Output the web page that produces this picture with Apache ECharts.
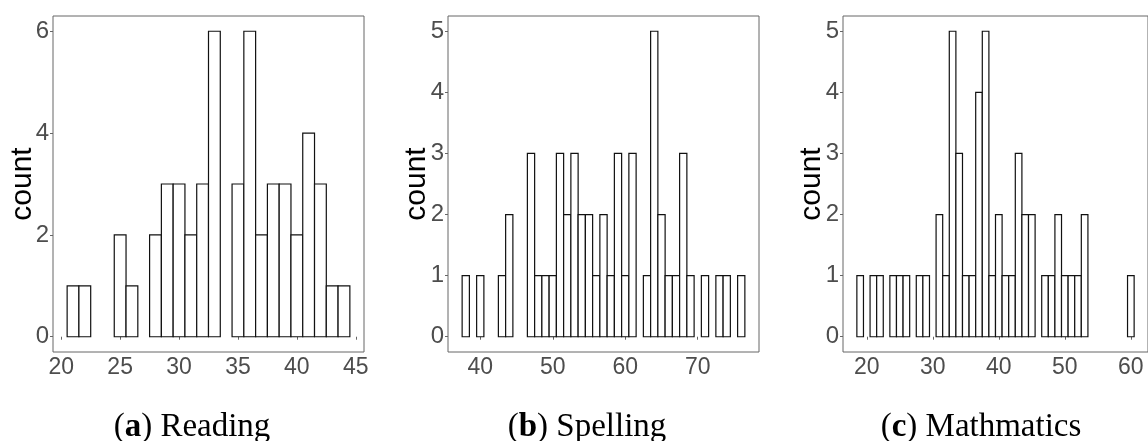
<!DOCTYPE html>
<html>
<head>
<meta charset="utf-8">
<title>Score histograms</title>
<script src="https://cdn.jsdelivr.net/npm/echarts@6/dist/echarts.min.js"></script>
<style>
  html, body { margin: 0; padding: 0; background: #fff; }
  #chart { width: 1148px; height: 441px; }
</style>
</head>
<body>
<div id="chart"></div>
<script>
// Histogram bins (bin centre, width 1) and counts for each test
const readingScore = [21, 22, 25, 26, 28, 29, 30, 31, 32, 33, 35, 36, 37, 38, 39, 40, 41, 42, 43, 44];
const readingCount = [1, 1, 2, 1, 2, 3, 3, 2, 3, 6, 3, 6, 2, 3, 3, 2, 4, 3, 1, 1];

const spellingScore = [38, 40, 43, 44, 47, 48, 49, 50, 51, 52, 53, 54, 55, 56, 57, 58, 59, 60, 61,
                       63, 64, 65, 66, 67, 68, 69, 71, 73, 74, 76];
const spellingCount = [1, 1, 1, 2, 3, 1, 1, 1, 3, 2, 3, 2, 2, 1, 2, 1, 3, 1, 3,
                       1, 5, 2, 1, 1, 3, 1, 1, 1, 1, 1];

const mathScore = [19, 21, 22, 24, 25, 26, 28, 29, 31, 32, 33, 34, 35, 36, 37, 38, 39, 40, 41, 42,
                   43, 44, 45, 47, 48, 49, 50, 51, 52, 53, 60];
const mathCount = [1, 1, 1, 1, 1, 1, 1, 1, 2, 1, 5, 3, 1, 1, 4, 5, 1, 2, 1, 1,
                   3, 2, 2, 1, 1, 2, 1, 1, 1, 2, 1];

// Tick labels
const readingXTicks = [20, 25, 30, 35, 40, 45];
const readingYTicks = [0, 2, 4, 6];
const spellingXTicks = [40, 50, 60, 70];
const spellingYTicks = [0, 1, 2, 3, 4, 5];
const mathXTicks = [20, 30, 40, 50, 60];
const mathYTicks = [0, 1, 2, 3, 4, 5];

// Panel captions and axis title
const captionLetters = ['a', 'b', 'c'];
const captionNames = ['Reading', 'Spelling', 'Mathmatics'];
const yTitle = 'count';

const BIN = 1;
const SANS = '"Liberation Sans", Arial, sans-serif';
const SERIF = '"Liberation Serif", "Times New Roman", serif';
const TICK_GREY = '#4d4d4d';

const chart = echarts.init(document.getElementById('chart'), null, { renderer: 'canvas' });

function zip(xs, ys) { return xs.map((x, i) => [x, ys[i]]); }

function histBar(params, api) {
  const v = api.value(0), c = api.value(1);
  const p0 = api.coord([v - BIN / 2, c]);
  const p1 = api.coord([v + BIN / 2, 0]);
  return {
    type: 'rect',
    shape: { x: p0[0], y: p0[1], width: p1[0] - p0[0], height: p1[1] - p0[1] },
    style: { fill: '#ffffff', stroke: '#111111', lineWidth: 1.2 }
  };
}

const panels = [
  { left: 53,  width: 311, xMin: 19.3,  xMax: 45.7,  yMin: -0.3,  yMax: 6.3,  xt: readingXTicks,  yt: readingYTicks,  data: zip(readingScore, readingCount) },
  { left: 448, width: 311, xMin: 35.55, xMax: 78.45, yMin: -0.25, yMax: 5.25, xt: spellingXTicks, yt: spellingYTicks, data: zip(spellingScore, spellingCount) },
  { left: 843, width: 312, xMin: 16.4,  xMax: 62.6,  yMin: -0.25, yMax: 5.25, xt: mathXTicks,     yt: mathYTicks,     data: zip(mathScore, mathCount) }
];
const captionCentres = [187, 582, 976];
const yTitleCentres = [23, 417, 812];

const option = {
  backgroundColor: '#ffffff',
  animation: false,
  grid: panels.map(p => ({
    left: p.left, top: 16, width: p.width, height: 336,
    show: true, borderColor: '#666666', borderWidth: 1, backgroundColor: 'transparent',
    containLabel: false
  })),
  xAxis: panels.map((p, i) => ({
    type: 'value', gridIndex: i, min: p.xMin, max: p.xMax,
    axisLine: { show: false },
    splitLine: { show: false },
    axisTick: { show: true, length: 3, lineStyle: { color: '#666666' }, customValues: p.xt },
    axisLabel: { show: true, customValues: p.xt, margin: 4, color: TICK_GREY, fontSize: 23, fontFamily: SANS }
  })),
  yAxis: panels.map((p, i) => ({
    type: 'value', gridIndex: i, min: p.yMin, max: p.yMax,
    axisLine: { show: false },
    splitLine: { show: false },
    axisTick: { show: true, length: 3, lineStyle: { color: '#666666' }, customValues: p.yt },
    axisLabel: { show: true, customValues: p.yt, margin: 4, color: TICK_GREY, fontSize: 24, fontFamily: SANS }
  })),
  graphic: yTitleCentres.map(cx => ({
    type: 'text', x: cx, y: 184, rotation: Math.PI / 2,
    style: {
      text: yTitle, fill: '#000000', fontSize: 30, fontFamily: SANS,
      align: 'center', verticalAlign: 'middle'
    }
  })),
  title: captionLetters.map((ch, i) => ({
    text: '({b|' + ch + '}) ' + captionNames[i],
    left: captionCentres[i], top: 406, textAlign: 'center',
    textStyle: {
      fontFamily: SERIF, fontSize: 33, fontWeight: 'normal', color: '#000000',
      rich: { b: { fontFamily: SERIF, fontSize: 33, fontWeight: 'bold', color: '#000000' } }
    }
  })),
  series: panels.map((p, i) => ({
    type: 'custom', xAxisIndex: i, yAxisIndex: i,
    renderItem: histBar, encode: { x: 0, y: 1 },
    data: p.data, clip: false
  }))
};

chart.setOption(option);
</script>
</body>
</html>
